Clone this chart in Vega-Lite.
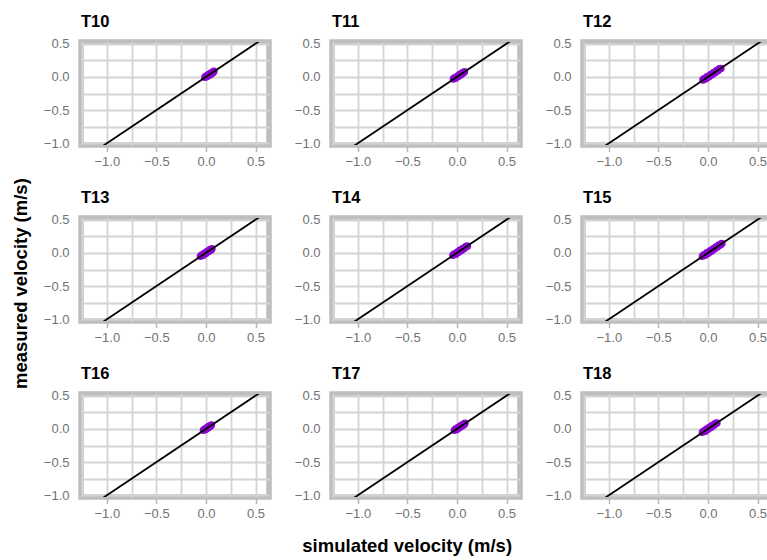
{
  "$schema": "https://vega.github.io/schema/vega-lite/v6.json",
  "background": "white",
  "padding": {"left": 12, "top": 11, "right": 0, "bottom": 5},
  "title": {"text": "measured velocity (m/s)", "orient": "left", "anchor": "middle", "fontSize": 18.5, "fontWeight": "bold", "font": "Liberation Sans", "color": "black", "offset": 10},
  "vconcat": [
    {
      "title": {"text": "simulated velocity (m/s)", "orient": "bottom", "anchor": "middle", "fontSize": 18.5, "fontWeight": "bold", "font": "Liberation Sans", "color": "black", "offset": 14},
      "data": {"values": [
        {"panel": "T10", "kind": "line", "sim": -1.4, "meas": -1.4}, {"panel": "T10", "kind": "line", "sim": 0.8, "meas": 0.8},
        {"panel": "T11", "kind": "line", "sim": -1.4, "meas": -1.4}, {"panel": "T11", "kind": "line", "sim": 0.8, "meas": 0.8},
        {"panel": "T12", "kind": "line", "sim": -1.4, "meas": -1.4}, {"panel": "T12", "kind": "line", "sim": 0.8, "meas": 0.8},
        {"panel": "T13", "kind": "line", "sim": -1.4, "meas": -1.4}, {"panel": "T13", "kind": "line", "sim": 0.8, "meas": 0.8},
        {"panel": "T14", "kind": "line", "sim": -1.4, "meas": -1.4}, {"panel": "T14", "kind": "line", "sim": 0.8, "meas": 0.8},
        {"panel": "T15", "kind": "line", "sim": -1.4, "meas": -1.4}, {"panel": "T15", "kind": "line", "sim": 0.8, "meas": 0.8},
        {"panel": "T16", "kind": "line", "sim": -1.4, "meas": -1.4}, {"panel": "T16", "kind": "line", "sim": 0.8, "meas": 0.8},
        {"panel": "T17", "kind": "line", "sim": -1.4, "meas": -1.4}, {"panel": "T17", "kind": "line", "sim": 0.8, "meas": 0.8},
        {"panel": "T18", "kind": "line", "sim": -1.4, "meas": -1.4}, {"panel": "T18", "kind": "line", "sim": 0.8, "meas": 0.8},

        {"panel": "T10", "kind": "pt", "sim": -0.01, "meas": -0.005}, {"panel": "T10", "kind": "pt", "sim": 0.0, "meas": 0.01},
        {"panel": "T10", "kind": "pt", "sim": 0.01, "meas": 0.004}, {"panel": "T10", "kind": "pt", "sim": 0.02, "meas": 0.026},
        {"panel": "T10", "kind": "pt", "sim": 0.03, "meas": 0.022}, {"panel": "T10", "kind": "pt", "sim": 0.04, "meas": 0.046},
        {"panel": "T10", "kind": "pt", "sim": 0.05, "meas": 0.041}, {"panel": "T10", "kind": "pt", "sim": 0.06, "meas": 0.066},
        {"panel": "T10", "kind": "pt", "sim": 0.07, "meas": 0.062}, {"panel": "T10", "kind": "pt", "sim": 0.08, "meas": 0.084},

        {"panel": "T11", "kind": "pt", "sim": -0.035, "meas": -0.03}, {"panel": "T11", "kind": "pt", "sim": -0.022, "meas": -0.012},
        {"panel": "T11", "kind": "pt", "sim": -0.01, "meas": -0.016}, {"panel": "T11", "kind": "pt", "sim": 0.004, "meas": 0.01},
        {"panel": "T11", "kind": "pt", "sim": 0.016, "meas": 0.008}, {"panel": "T11", "kind": "pt", "sim": 0.028, "meas": 0.034},
        {"panel": "T11", "kind": "pt", "sim": 0.04, "meas": 0.033}, {"panel": "T11", "kind": "pt", "sim": 0.052, "meas": 0.058},
        {"panel": "T11", "kind": "pt", "sim": 0.064, "meas": 0.058}, {"panel": "T11", "kind": "pt", "sim": 0.075, "meas": 0.078},

        {"panel": "T12", "kind": "pt", "sim": -0.05, "meas": -0.045}, {"panel": "T12", "kind": "pt", "sim": -0.035, "meas": -0.024},
        {"panel": "T12", "kind": "pt", "sim": -0.02, "meas": -0.027}, {"panel": "T12", "kind": "pt", "sim": -0.005, "meas": 0.004},
        {"panel": "T12", "kind": "pt", "sim": 0.01, "meas": 0.002}, {"panel": "T12", "kind": "pt", "sim": 0.025, "meas": 0.033},
        {"panel": "T12", "kind": "pt", "sim": 0.04, "meas": 0.031}, {"panel": "T12", "kind": "pt", "sim": 0.055, "meas": 0.062},
        {"panel": "T12", "kind": "pt", "sim": 0.07, "meas": 0.062}, {"panel": "T12", "kind": "pt", "sim": 0.085, "meas": 0.093},
        {"panel": "T12", "kind": "pt", "sim": 0.1, "meas": 0.092}, {"panel": "T12", "kind": "pt", "sim": 0.115, "meas": 0.121},
        {"panel": "T12", "kind": "pt", "sim": 0.13, "meas": 0.126},

        {"panel": "T13", "kind": "pt", "sim": -0.055, "meas": -0.05}, {"panel": "T13", "kind": "pt", "sim": -0.042, "meas": -0.032},
        {"panel": "T13", "kind": "pt", "sim": -0.028, "meas": -0.035}, {"panel": "T13", "kind": "pt", "sim": -0.015, "meas": -0.007},
        {"panel": "T13", "kind": "pt", "sim": -0.002, "meas": -0.009}, {"panel": "T13", "kind": "pt", "sim": 0.012, "meas": 0.019},
        {"panel": "T13", "kind": "pt", "sim": 0.025, "meas": 0.018}, {"panel": "T13", "kind": "pt", "sim": 0.038, "meas": 0.045},
        {"panel": "T13", "kind": "pt", "sim": 0.05, "meas": 0.044}, {"panel": "T13", "kind": "pt", "sim": 0.06, "meas": 0.063},

        {"panel": "T14", "kind": "pt", "sim": -0.04, "meas": -0.036}, {"panel": "T14", "kind": "pt", "sim": -0.026, "meas": -0.016},
        {"panel": "T14", "kind": "pt", "sim": -0.012, "meas": -0.02}, {"panel": "T14", "kind": "pt", "sim": 0.002, "meas": 0.01},
        {"panel": "T14", "kind": "pt", "sim": 0.016, "meas": 0.008}, {"panel": "T14", "kind": "pt", "sim": 0.03, "meas": 0.038},
        {"panel": "T14", "kind": "pt", "sim": 0.045, "meas": 0.037}, {"panel": "T14", "kind": "pt", "sim": 0.06, "meas": 0.067},
        {"panel": "T14", "kind": "pt", "sim": 0.075, "meas": 0.068}, {"panel": "T14", "kind": "pt", "sim": 0.09, "meas": 0.096},
        {"panel": "T14", "kind": "pt", "sim": 0.105, "meas": 0.101},

        {"panel": "T15", "kind": "pt", "sim": -0.055, "meas": -0.05}, {"panel": "T15", "kind": "pt", "sim": -0.04, "meas": -0.03},
        {"panel": "T15", "kind": "pt", "sim": -0.025, "meas": -0.033}, {"panel": "T15", "kind": "pt", "sim": -0.01, "meas": 0.0},
        {"panel": "T15", "kind": "pt", "sim": 0.005, "meas": -0.003}, {"panel": "T15", "kind": "pt", "sim": 0.02, "meas": 0.029},
        {"panel": "T15", "kind": "pt", "sim": 0.035, "meas": 0.026}, {"panel": "T15", "kind": "pt", "sim": 0.05, "meas": 0.058},
        {"panel": "T15", "kind": "pt", "sim": 0.065, "meas": 0.057}, {"panel": "T15", "kind": "pt", "sim": 0.08, "meas": 0.088},
        {"panel": "T15", "kind": "pt", "sim": 0.095, "meas": 0.087}, {"panel": "T15", "kind": "pt", "sim": 0.11, "meas": 0.117},
        {"panel": "T15", "kind": "pt", "sim": 0.125, "meas": 0.118}, {"panel": "T15", "kind": "pt", "sim": 0.14, "meas": 0.142},

        {"panel": "T16", "kind": "pt", "sim": -0.025, "meas": -0.02}, {"panel": "T16", "kind": "pt", "sim": -0.014, "meas": -0.005},
        {"panel": "T16", "kind": "pt", "sim": -0.003, "meas": -0.01}, {"panel": "T16", "kind": "pt", "sim": 0.008, "meas": 0.015},
        {"panel": "T16", "kind": "pt", "sim": 0.019, "meas": 0.012}, {"panel": "T16", "kind": "pt", "sim": 0.03, "meas": 0.037},
        {"panel": "T16", "kind": "pt", "sim": 0.042, "meas": 0.036}, {"panel": "T16", "kind": "pt", "sim": 0.055, "meas": 0.057},

        {"panel": "T17", "kind": "pt", "sim": -0.025, "meas": -0.02}, {"panel": "T17", "kind": "pt", "sim": -0.013, "meas": -0.004},
        {"panel": "T17", "kind": "pt", "sim": -0.001, "meas": -0.008}, {"panel": "T17", "kind": "pt", "sim": 0.011, "meas": 0.019},
        {"panel": "T17", "kind": "pt", "sim": 0.023, "meas": 0.016}, {"panel": "T17", "kind": "pt", "sim": 0.035, "meas": 0.042},
        {"panel": "T17", "kind": "pt", "sim": 0.047, "meas": 0.04}, {"panel": "T17", "kind": "pt", "sim": 0.059, "meas": 0.066},
        {"panel": "T17", "kind": "pt", "sim": 0.07, "meas": 0.064}, {"panel": "T17", "kind": "pt", "sim": 0.08, "meas": 0.083},

        {"panel": "T18", "kind": "pt", "sim": -0.055, "meas": -0.05}, {"panel": "T18", "kind": "pt", "sim": -0.041, "meas": -0.031},
        {"panel": "T18", "kind": "pt", "sim": -0.027, "meas": -0.034}, {"panel": "T18", "kind": "pt", "sim": -0.013, "meas": -0.004},
        {"panel": "T18", "kind": "pt", "sim": 0.001, "meas": -0.006}, {"panel": "T18", "kind": "pt", "sim": 0.015, "meas": 0.023},
        {"panel": "T18", "kind": "pt", "sim": 0.03, "meas": 0.022}, {"panel": "T18", "kind": "pt", "sim": 0.045, "meas": 0.052},
        {"panel": "T18", "kind": "pt", "sim": 0.06, "meas": 0.053}, {"panel": "T18", "kind": "pt", "sim": 0.075, "meas": 0.081},
        {"panel": "T18", "kind": "pt", "sim": 0.09, "meas": 0.087}
      ]},
      "facet": {"field": "panel", "type": "nominal", "title": null,
        "header": {"labelFontSize": 16.5, "labelFontWeight": "bold", "labelFont": "Liberation Sans", "labelColor": "black", "labelAnchor": "start", "labelAlign": "left", "labelPadding": 7}},
      "columns": 3,
      "spacing": {"row": 15, "column": 19},
      "resolve": {"axis": {"x": "independent", "y": "independent"}},
      "spec": {
        "width": 188,
        "height": 103,
        "encoding": {
          "x": {"field": "sim", "type": "quantitative", "scale": {"domain": [-1.26, 0.636], "nice": false, "zero": false},
            "axis": {"title": null, "values": [-1.25, -1, -0.75, -0.5, -0.25, 0, 0.25, 0.5], "format": ".1f",
              "labelExpr": "abs(datum.value*2 - round(datum.value*2)) < 0.01 ? datum.label : ''",
              "tickOpacity": {"condition": {"test": "abs(datum.value*2 - round(datum.value*2)) < 0.01", "value": 1}, "value": 0},
              "tickSize": 6.5, "tickWidth": 1.5, "tickColor": "#b8b8b8", "labelPadding": 4}},
          "y": {"field": "meas", "type": "quantitative", "scale": {"domain": [-1.025, 0.525], "nice": false, "zero": false},
            "axis": {"title": null, "values": [-1, -0.75, -0.5, -0.25, 0, 0.25, 0.5], "format": ".1f",
              "labelExpr": "abs(datum.value*2 - round(datum.value*2)) < 0.01 ? datum.label : ''",
              "tickOpacity": 0, "tickSize": 6, "labelPadding": 6}}
        },
        "layer": [
          {"transform": [{"filter": "datum.kind == 'pt'"}],
           "mark": {"type": "circle", "size": 58, "opacity": 1, "color": "#8c06d0"}},
          {"transform": [{"filter": "datum.kind == 'line'"}],
           "mark": {"type": "line", "color": "black", "strokeWidth": 1.8, "clip": true}}
        ]
      }
    }
  ],
  "config": {
    "view": {"stroke": "#bebebe", "strokeWidth": 5.5, "fill": "white"},
    "axis": {"domain": false, "grid": true, "gridColor": "#d4d4d4", "gridWidth": 1.8, "labelFont": "Liberation Sans", "labelFontSize": 13, "labelColor": "#727272"}
  }
}
